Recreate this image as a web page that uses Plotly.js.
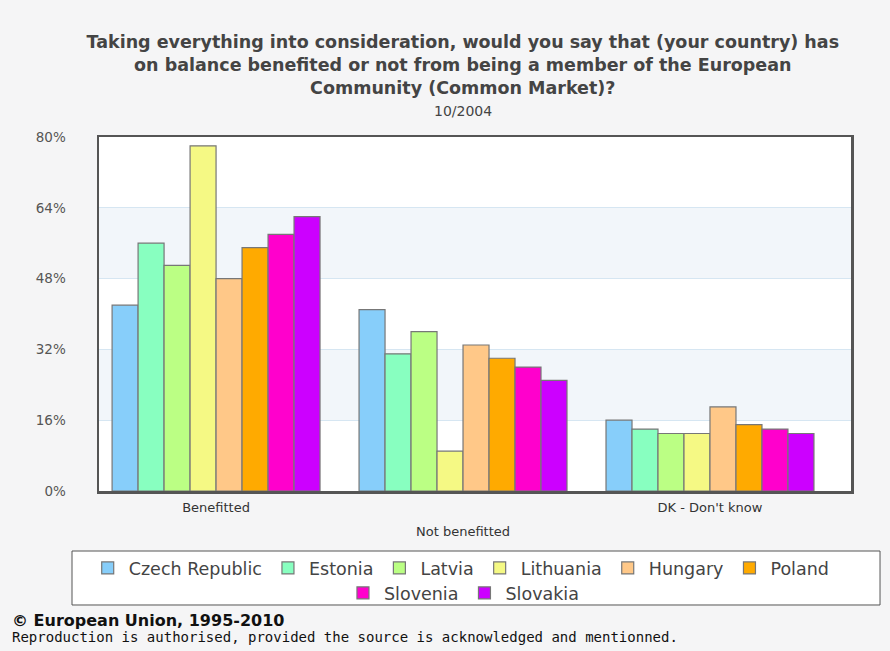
<!DOCTYPE html>
<html>
<head>
<meta charset="utf-8">
<script src="https://cdn.plot.ly/plotly-3.0.1.min.js"></script>
<style>html,body{margin:0;padding:0;background:#f5f5f6;}#chart{width:890px;height:651px;}</style>
</head>
<body>
<div id="chart"></div>
<script>
const categories = ["Benefitted", "Not benefitted", "DK - Don't know"];
const countries = ["Czech Republic", "Estonia", "Latvia", "Lithuania", "Hungary", "Poland", "Slovenia", "Slovakia"];
const czech = [42, 41, 16];
const estonia = [56, 31, 14];
const latvia = [51, 36, 13];
const lithuania = [78, 9, 13];
const hungary = [48, 33, 19];
const poland = [55, 30, 15];
const slovenia = [58, 28, 14];
const slovakia = [62, 25, 13];
const seriesValues = [czech, estonia, latvia, lithuania, hungary, poland, slovenia, slovakia];
const colors = ["#87cefa", "#88ffc0", "#bbff84", "#f5f984", "#ffc888", "#ffaa00", "#ff00cc", "#cc00ff"];
const tickVals = [0, 16, 32, 48, 64, 80];
const tickLabels = ["0%", "16%", "32%", "48%", "64%", "80%"];

const traces = countries.map((name, i) => ({
  type: 'bar',
  name: name,
  x: categories,
  y: seriesValues[i],
  legend: i < 6 ? 'legend' : 'legend2',
  marker: {color: colors[i], line: {color: '#777777', width: 1.2}},
  hoverinfo: 'none'
}));

const shapes = [];
for (let i = 1; i + 1 < tickVals.length; i += 2) {
  shapes.push({type: 'rect', xref: 'paper', yref: 'y', x0: 0, x1: 1, y0: tickVals[i], y1: tickVals[i + 1],
    fillcolor: '#f2f6fa', line: {width: 0}, layer: 'below'});
}
// legend frame
shapes.push({type: 'rect', xref: 'paper', yref: 'paper', x0: -0.0359, x1: 1.0386, y0: -0.1695, y1: -0.322,
  fillcolor: '#ffffff', line: {color: '#555', width: 1}, layer: 'below'});

const catLabels = categories.map((c, i) => (i % 2 === 1 ? '' : c));

const layout = {
  width: 890, height: 651,
  paper_bgcolor: '#f5f5f6',
  plot_bgcolor: '#ffffff',
  margin: {l: 99, r: 39, t: 137, b: 160},
  font: {family: 'DejaVu Sans, Verdana, sans-serif', color: '#444'},
  title: {
    text: '<b>Taking everything into consideration, would you say that (your country) has<br>on balance benefited or not from being a member of the European<br>Community (Common Market)?</b>',
    font: {size: 17.5, color: '#444', family: 'DejaVu Sans, Verdana, sans-serif'},
    x: 0.52, xref: 'container', xanchor: 'center',
    y: 1 - 48 / 651, yref: 'container', yanchor: 'middle'
  },
  annotations: [
    {text: '10/2004', xref: 'paper', yref: 'paper', x: 0.484, y: (491 - 111) / 354, xanchor: 'center', yanchor: 'middle',
      showarrow: false, font: {size: 14, color: '#444'}},
    {text: categories[1], xref: 'x', yref: 'paper', x: categories[1], y: (491 - 531) / 354, xanchor: 'center', yanchor: 'middle',
      showarrow: false, font: {size: 13, color: '#333'}},
    {text: '<b>© European Union, 1995-2010</b>', xref: 'paper', yref: 'paper', x: (10 - 99) / 752, y: (491 - 620) / 354,
      xanchor: 'left', yanchor: 'middle', showarrow: false, font: {size: 16, color: '#111'}},
    {text: 'Reproduction is authorised, provided the source is acknowledged and mentionned.', xref: 'paper', yref: 'paper',
      x: (10 - 99) / 752, y: (491 - 637) / 354, xanchor: 'left', yanchor: 'middle', showarrow: false,
      font: {size: 14, color: '#111', family: 'DejaVu Sans Mono, monospace'}}
  ],
  shapes: shapes,
  barmode: 'group',
  bargap: 0.158,
  bargroupgap: 0,
  xaxis: {
    type: 'category',
    range: [-0.474, 2.571],
    tickvals: categories,
    ticktext: catLabels,
    tickfont: {size: 13, color: '#333'},
    ticklabelstandoff: 3,
    showline: true, linecolor: '#555', linewidth: 2.5, mirror: true,
    showgrid: false, ticks: '', fixedrange: true
  },
  yaxis: {
    range: [0, 80],
    tickvals: tickVals,
    ticktext: tickLabels,
    tickfont: {size: 13.5, color: '#555'},
    ticklabelstandoff: 28,
    showline: true, linecolor: '#555', linewidth: 2.5, mirror: true,
    showgrid: true, gridcolor: '#d6e6f2', gridwidth: 1,
    zeroline: false, ticks: '', fixedrange: true
  },
  showlegend: true,
  legend: {
    orientation: 'h',
    x: 0.481, xanchor: 'center',
    y: (491 - 550) / 354, yanchor: 'top',
    bgcolor: 'rgba(0,0,0,0)', borderwidth: 0,
    itemwidth: 32,
    font: {size: 17.5, color: '#444'},
    traceorder: 'normal'
  },
  legend2: {
    orientation: 'h',
    x: 0.484, xanchor: 'center',
    y: (491 - 575) / 354, yanchor: 'top',
    bgcolor: 'rgba(0,0,0,0)', borderwidth: 0,
    itemwidth: 32,
    font: {size: 17.5, color: '#444'},
    traceorder: 'normal'
  }
};

Plotly.newPlot('chart', traces, layout, {displayModeBar: false, staticPlot: true});
</script>
</body>
</html>
